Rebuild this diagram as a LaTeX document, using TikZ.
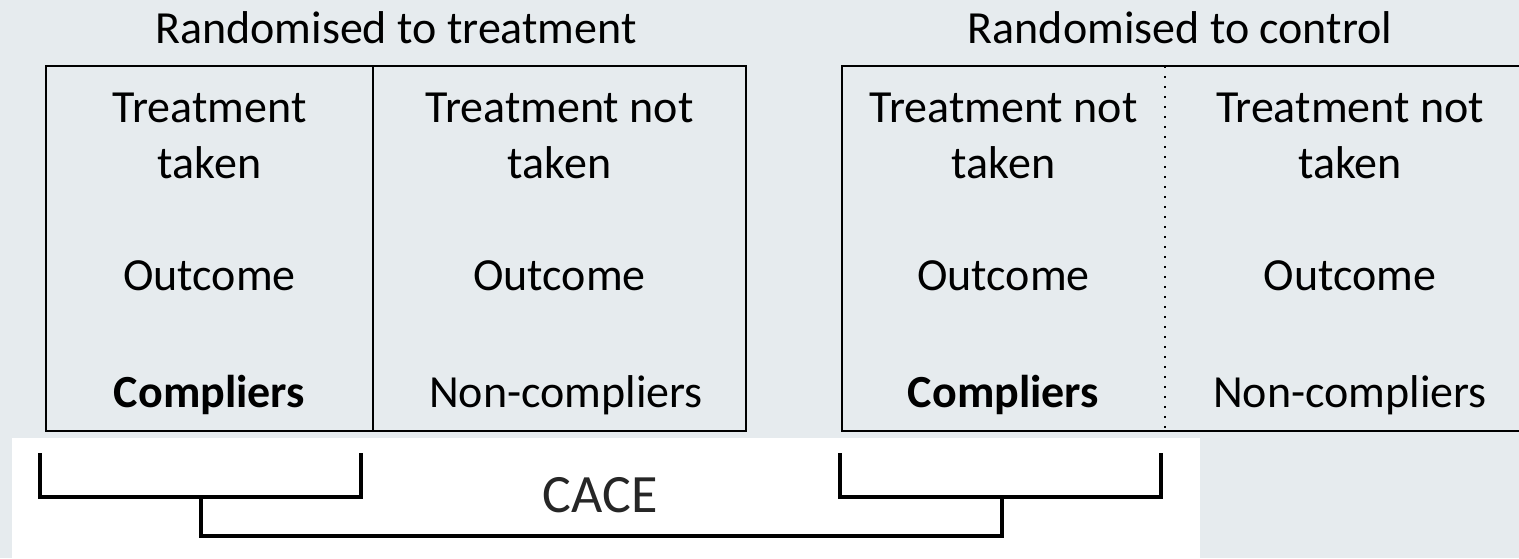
\documentclass[tikz,border=0pt]{standalone}
\usepackage{fontspec}
\setmainfont{Carlito}
\definecolor{panel}{HTML}{E6EBEE}
\definecolor{cacetext}{HTML}{262626}

\begin{document}
\begin{tikzpicture}[x=0.5pt, y=-0.5pt, align=center,
  cell/.style={anchor=base, font=\fontsize{23}{28}\selectfont},
  bracket/.style={line width=1.7pt}]

\useasboundingbox (0,0) rectangle (1519,558);
\fill [panel] (0,0) rectangle (1519,558);
\clip (0,0) rectangle (1519,558);
\fill [white] (12,438) rectangle (1200,558);

% the two arms
\draw [line width=1pt] (46,66) rectangle (746,431);
\draw [line width=1pt] (373,66) -- (373,431);
\draw [line width=1pt] (842,66) rectangle (1540,431);
\draw [line width=1pt, dash pattern=on 1pt off 4pt] (1165,66) -- (1165,431);

\node [cell] (armT) at (396,43) {Randomised to treatment};
\node [cell] (armC) at (1180,43) {Randomised to control};

% base is the baseline of the second line
\node [cell] (takeA) at (209.5,178) {Treatment\\taken};
\node [cell] (takeB) at (559.5,178) {Treatment not\\taken};
\node [cell] (takeC) at (1003.5,178) {Treatment not\\taken};
\node [cell] (takeD) at (1350,178) {Treatment not\\taken};

\node [cell] (outA) at (209.5,290) {Outcome};
\node [cell] (outB) at (559.5,290) {Outcome};
\node [cell] (outC) at (1003.5,290) {Outcome};
\node [cell] (outD) at (1350,290) {Outcome};

\node [cell] (compA) at (209.5,407) {\textbf{Compliers}};
\node [cell] (compB) at (566,407) {Non-compliers};
\node [cell] (compC) at (1003.5,407) {\textbf{Compliers}};
\node [cell] (compD) at (1350,407) {Non-compliers};

% brackets
\coordinate (bl1) at (40,453);
\coordinate (bl2) at (361,453);
\coordinate (br1) at (840,453);
\coordinate (br2) at (1161,453);
\coordinate (jl) at (201,497);
\coordinate (jr) at (1002,497);

\draw [bracket] (bl1) -- (bl1 |- jl) -- (bl2 |- jl) -- (bl2);
\draw [bracket] (br1) -- (br1 |- jr) -- (br2 |- jr) -- (br2);
\draw [bracket] (jl) -- ++(0,39) -| (jr);

\node [anchor=base, font=\fontsize{27}{32}\selectfont, text=cacetext] (cace) at (600,512) {CACE};

\end{tikzpicture}
\end{document}
